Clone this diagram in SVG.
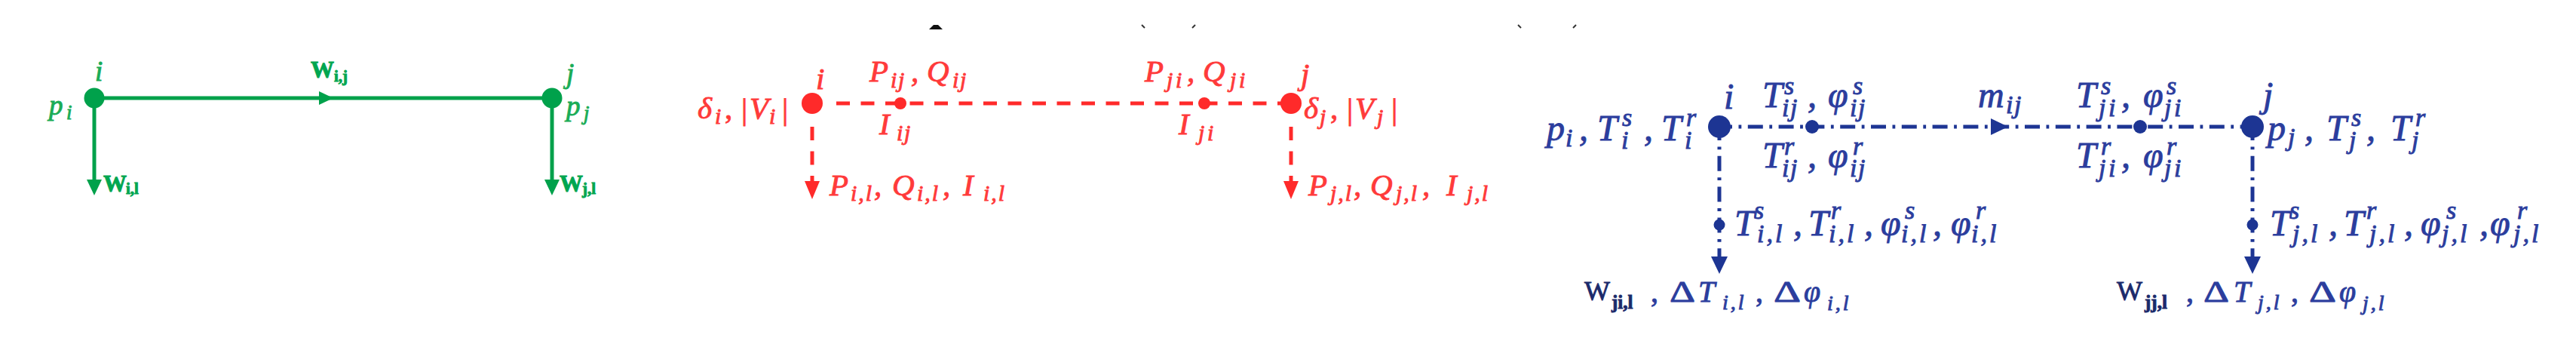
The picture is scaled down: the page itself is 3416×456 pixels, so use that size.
<svg xmlns="http://www.w3.org/2000/svg" width="3416" height="456" viewBox="0 0 3416 456">
<style>
text { font-family: "Liberation Serif", "DejaVu Serif", serif; stroke-width: 0.9px; }
.m { font-style: italic; }
.w { font-weight: bold; }
.gt { fill: #1aac56; stroke: #1aac56; }
.gw { fill: #00a650; stroke: #00a650; }
.rt { fill: #ff3a3a; stroke: #ff3a3a; }
.bt { fill: #2b3d9d; stroke: #2b3d9d; }
.nt { fill: #1b2a6b; stroke: #1b2a6b; }
.gl { stroke: #00a14b; stroke-width: 5; fill: none; }
.rl { stroke: #ff2a2a; stroke-width: 5; fill: none; stroke-dasharray: 18 14.5; }
.bl { stroke: #1d3593; stroke-width: 5; fill: none; stroke-dasharray: 20 8.5 3.8 8.5; }
.gf { fill: #00a14b; }
.rf { fill: #ff2a2a; }
.bf { fill: #1d3593; }
.sub { font-size: 30px; }
.bs { font-size: 34px; }
</style>
<rect width="3416" height="456" fill="#ffffff"/>

<g id="fragments" stroke="#333" stroke-width="2" fill="none">
  <polygon points="1232,39 1250,39 1244,33 1238,33" fill="#111" stroke="none"/>
  <line x1="1514" y1="33" x2="1518" y2="37"/>
  <line x1="1585" y1="33" x2="1581" y2="37"/>
  <line x1="2013" y1="33" x2="2017" y2="37"/>
  <line x1="2090" y1="33" x2="2086" y2="37"/>
</g>

<g id="connectors">
  <line class="gl" x1="125" y1="130" x2="732" y2="130"/>
  <path class="gf" d="M423,121 L442,130 L423,139 Z"/>
  <line class="gl" x1="125" y1="130" x2="125" y2="242"/>
  <path class="gf" d="M115,238 L135,238 L125,259 Z"/>
  <line class="gl" x1="732" y1="130" x2="732" y2="242"/>
  <path class="gf" d="M722,238 L742,238 L732,259 Z"/>
  <line class="rl" x1="1109" y1="137" x2="1712" y2="137"/>
  <line class="rl" x1="1077" y1="168" x2="1077" y2="242"/>
  <path class="rf" d="M1067,240 L1087,240 L1077,264 Z"/>
  <line class="rl" x1="1712" y1="168" x2="1712" y2="242"/>
  <path class="rf" d="M1702,240 L1722,240 L1712,264 Z"/>
  <line class="bl" x1="2277" y1="168" x2="2987" y2="168"/>
  <path class="bf" d="M2640,157 L2663,168 L2640,179 Z"/>
  <line class="bl" x1="2280" y1="166" x2="2280" y2="342"/>
  <path class="bf" d="M2269,340 L2291,340 L2280,363 Z"/>
  <line class="bl" x1="2987" y1="166" x2="2987" y2="342"/>
  <path class="bf" d="M2976,340 L2998,340 L2987,363 Z"/>
</g>

<g id="g-node-i">
  <circle class="gf" cx="125" cy="130" r="13.5"/>
  <text class="m gt" font-size="37" x="126" y="107">i</text>
  <text class="m gt" font-size="37"><tspan x="65" y="152">p</tspan><tspan x="88" y="158" font-size="27">i</tspan></text>
</g>
<g id="g-node-j">
  <circle class="gf" cx="732" cy="130" r="13.5"/>
  <text class="m gt" font-size="37" x="751" y="110">j</text>
  <text class="m gt" font-size="37"><tspan x="751" y="153">p</tspan><tspan x="774" y="159" font-size="27">j</tspan></text>
</g>
<g id="g-flow-ij">
  <text class="w gw"><tspan x="412" y="103" font-size="31">W</tspan><tspan x="443" y="108" font-size="21">i,j</tspan></text>
</g>
<g id="g-load-i">
  <text class="w gw"><tspan x="137" y="254" font-size="31">W</tspan><tspan x="167" y="257" font-size="21">i,l</tspan></text>
</g>
<g id="g-load-j">
  <text class="w gw"><tspan x="742" y="254" font-size="31">W</tspan><tspan x="772" y="257" font-size="21">j,l</tspan></text>
</g>

<g id="r-node-i">
  <circle class="rf" cx="1077" cy="137" r="14"/>
  <text class="m rt" font-size="41" x="1082" y="118">i</text>
  <text class="rt" font-size="41"><tspan class="m" x="925" y="157">δ</tspan><tspan class="m sub" x="948" y="164">i</tspan><tspan x="961" y="157">,</tspan><tspan x="983" y="158">|</tspan><tspan class="m" x="994" y="157">V</tspan><tspan class="m sub" x="1020" y="164">i</tspan><tspan x="1037" y="158">|</tspan></text>
</g>
<g id="r-node-j">
  <circle class="rf" cx="1712" cy="137" r="14"/>
  <text class="m rt" font-size="41" x="1725" y="112">j</text>
  <text class="rt" font-size="41"><tspan class="m" x="1729" y="157">δ</tspan><tspan class="m sub" x="1750" y="165">j</tspan><tspan x="1764" y="157">,</tspan><tspan x="1786" y="158">|</tspan><tspan class="m" x="1797" y="157">V</tspan><tspan class="m sub" x="1826" y="165">j</tspan><tspan x="1845" y="158">|</tspan></text>
</g>
<g id="r-node-Iij">
  <circle class="rf" cx="1194" cy="137" r="8"/>
  <text class="rt m" font-size="41"><tspan x="1153" y="108">P</tspan><tspan class="sub" x="1181" y="116">i</tspan><tspan class="sub" x="1191" y="116">j</tspan><tspan x="1208" y="108">,</tspan><tspan x="1229" y="108">Q</tspan><tspan class="sub" x="1263" y="116">i</tspan><tspan class="sub" x="1273" y="116">j</tspan></text>
  <text class="rt m" font-size="41"><tspan x="1166" y="178">I</tspan><tspan class="sub" x="1189" y="186">i</tspan><tspan class="sub" x="1199" y="186">j</tspan></text>
</g>
<g id="r-node-Iji">
  <circle class="rf" cx="1597" cy="137" r="8"/>
  <text class="rt m" font-size="41"><tspan x="1518" y="108">P</tspan><tspan class="sub" x="1547" y="116">j</tspan><tspan class="sub" x="1559" y="116">i</tspan><tspan x="1574" y="108">,</tspan><tspan x="1595" y="108">Q</tspan><tspan class="sub" x="1631" y="116">j</tspan><tspan class="sub" x="1643" y="116">i</tspan></text>
  <text class="rt m" font-size="41"><tspan x="1563" y="178">I</tspan><tspan class="sub" x="1589" y="186">j</tspan><tspan class="sub" x="1601" y="186">i</tspan></text>
</g>
<g id="r-load-i">
  <text class="rt m" font-size="41"><tspan x="1100" y="259">P</tspan><tspan class="sub" letter-spacing="2" x="1128" y="266">i,l</tspan><tspan x="1159" y="259">,</tspan><tspan x="1183" y="259">Q</tspan><tspan class="sub" letter-spacing="2" x="1216" y="266">i,l</tspan><tspan x="1250" y="259">,</tspan><tspan x="1277" y="259">I</tspan><tspan class="sub" letter-spacing="2" x="1304" y="266">i,l</tspan></text>
</g>
<g id="r-load-j">
  <text class="rt m" font-size="41"><tspan x="1735" y="259">P</tspan><tspan class="sub" letter-spacing="2" x="1764" y="266">j,l</tspan><tspan x="1795" y="259">,</tspan><tspan x="1817" y="259">Q</tspan><tspan class="sub" letter-spacing="2" x="1851" y="266">j,l</tspan><tspan x="1886" y="259">,</tspan><tspan x="1918" y="259">I</tspan><tspan class="sub" letter-spacing="2" x="1945" y="266">j,l</tspan></text>
</g>

<g id="b-node-i">
  <circle class="bf" cx="2280" cy="168" r="15"/>
  <text class="m bt" font-size="48" x="2286" y="144">i</text>
  <text class="m bt" font-size="48"><tspan x="2051" y="186">p</tspan><tspan class="bs" x="2076" y="194">i</tspan><tspan x="2094" y="186">,</tspan><tspan x="2118" y="186">T</tspan><tspan class="bs" x="2151" y="167">s</tspan><tspan class="bs" x="2150" y="197">i</tspan><tspan x="2180" y="186">,</tspan><tspan x="2203" y="186">T</tspan><tspan class="bs" x="2236" y="167">r</tspan><tspan class="bs" x="2234" y="197">i</tspan></text>
</g>
<g id="b-node-j">
  <circle class="bf" cx="2987" cy="168" r="15"/>
  <text class="m bt" font-size="48" x="3001" y="142">j</text>
  <text class="m bt" font-size="48"><tspan x="3007" y="186">p</tspan><tspan class="bs" x="3034" y="193">j</tspan><tspan x="3056" y="186">,</tspan><tspan x="3085" y="186">T</tspan><tspan class="bs" x="3118" y="167">s</tspan><tspan class="bs" x="3115" y="197">j</tspan><tspan x="3138" y="186">,</tspan><tspan x="3170" y="186">T</tspan><tspan class="bs" x="3203" y="167">r</tspan><tspan class="bs" x="3198" y="197">j</tspan></text>
</g>
<g id="b-node-ij">
  <circle class="bf" cx="2403" cy="168" r="9"/>
  <text class="m bt" font-size="48"><tspan x="2337" y="142">T</tspan><tspan class="bs" x="2366" y="125">s</tspan><tspan class="bs" x="2363" y="154">i</tspan><tspan class="bs" x="2374" y="154">j</tspan><tspan x="2397" y="142">,</tspan><tspan x="2424" y="142">φ</tspan><tspan class="bs" x="2457" y="125">s</tspan><tspan class="bs" x="2453" y="154">i</tspan><tspan class="bs" x="2464" y="154">j</tspan></text>
  <text class="m bt" font-size="48"><tspan x="2337" y="222">T</tspan><tspan class="bs" x="2366" y="205">r</tspan><tspan class="bs" x="2363" y="234">i</tspan><tspan class="bs" x="2374" y="234">j</tspan><tspan x="2397" y="222">,</tspan><tspan x="2424" y="222">φ</tspan><tspan class="bs" x="2457" y="205">r</tspan><tspan class="bs" x="2453" y="234">i</tspan><tspan class="bs" x="2464" y="234">j</tspan></text>
</g>
<g id="b-node-ji">
  <circle class="bf" cx="2838" cy="168" r="9"/>
  <text class="m bt" font-size="48"><tspan x="2753" y="142">T</tspan><tspan class="bs" x="2786" y="125">s</tspan><tspan class="bs" x="2783" y="154">j</tspan><tspan class="bs" x="2796" y="154">i</tspan><tspan x="2813" y="142">,</tspan><tspan x="2842" y="142">φ</tspan><tspan class="bs" x="2873" y="125">s</tspan><tspan class="bs" x="2870" y="154">j</tspan><tspan class="bs" x="2883" y="154">i</tspan></text>
  <text class="m bt" font-size="48"><tspan x="2753" y="222">T</tspan><tspan class="bs" x="2786" y="205">r</tspan><tspan class="bs" x="2783" y="234">j</tspan><tspan class="bs" x="2796" y="234">i</tspan><tspan x="2813" y="222">,</tspan><tspan x="2842" y="222">φ</tspan><tspan class="bs" x="2873" y="205">r</tspan><tspan class="bs" x="2870" y="234">j</tspan><tspan class="bs" x="2883" y="234">i</tspan></text>
</g>
<g id="b-flow-ij">
  <text class="m bt" font-size="48"><tspan x="2623" y="142">m</tspan><tspan class="bs" x="2660" y="150">i</tspan><tspan class="bs" x="2671" y="150">j</tspan></text>
</g>
<g id="b-load-node-i">
  <circle class="bf" cx="2280" cy="298" r="7.5"/>
  <text class="m bt" font-size="48"><tspan x="2300" y="312">T</tspan><tspan class="bs" x="2326" y="290">s</tspan><tspan class="bs" letter-spacing="3" x="2330" y="321">i,l</tspan><tspan x="2378" y="312">,</tspan><tspan x="2398" y="312">T</tspan><tspan class="bs" x="2428" y="290">r</tspan><tspan class="bs" letter-spacing="3" x="2425" y="321">i,l</tspan><tspan x="2472" y="312">,</tspan><tspan x="2494" y="312">φ</tspan><tspan class="bs" x="2526" y="290">s</tspan><tspan class="bs" letter-spacing="3" x="2521" y="321">i,l</tspan><tspan x="2563" y="312">,</tspan><tspan x="2587" y="312">φ</tspan><tspan class="bs" x="2620" y="290">r</tspan><tspan class="bs" letter-spacing="3" x="2614" y="321">i,l</tspan></text>
</g>
<g id="b-load-node-j">
  <circle class="bf" cx="2987" cy="298" r="7.5"/>
  <text class="m bt" font-size="48"><tspan x="3010" y="312">T</tspan><tspan class="bs" x="3036" y="290">s</tspan><tspan class="bs" letter-spacing="3" x="3040" y="321">j,l</tspan><tspan x="3088" y="312">,</tspan><tspan x="3108" y="312">T</tspan><tspan class="bs" x="3138" y="290">r</tspan><tspan class="bs" letter-spacing="3" x="3142" y="321">j,l</tspan><tspan x="3188" y="312">,</tspan><tspan x="3210" y="312">φ</tspan><tspan class="bs" x="3244" y="290">s</tspan><tspan class="bs" letter-spacing="3" x="3238" y="321">j,l</tspan><tspan x="3288" y="312">,</tspan><tspan x="3302" y="312">φ</tspan><tspan class="bs" x="3338" y="290">r</tspan><tspan class="bs" letter-spacing="3" x="3333" y="321">j,l</tspan></text>
</g>
<g id="b-load-i">
  <text class="nt"><tspan x="2101" y="398" font-size="36">W</tspan><tspan class="w" x="2137" y="409" font-size="25">ji,l</tspan></text>
  <text class="bt" font-size="40"><tspan x="2189" y="400">,</tspan><tspan class="m" x="2252" y="400">T</tspan><tspan class="m" font-size="28" letter-spacing="3" x="2284" y="410">i,l</tspan><tspan x="2328" y="400">,</tspan><tspan class="m" x="2392" y="400">φ</tspan><tspan class="m" font-size="28" letter-spacing="3" x="2423" y="411">i,l</tspan></text>
  <text class="bt" font-size="40" x="2214" y="400" textLength="34" lengthAdjust="spacingAndGlyphs">Δ</text>
  <text class="bt" font-size="40" x="2352" y="400" textLength="36" lengthAdjust="spacingAndGlyphs">Δ</text>
</g>
<g id="b-load-j">
  <text class="nt"><tspan x="2807" y="398" font-size="36">W</tspan><tspan class="w" x="2844" y="409" font-size="25">jj,l</tspan></text>
  <text class="bt" font-size="40"><tspan x="2899" y="400">,</tspan><tspan class="m" x="2962" y="400">T</tspan><tspan class="m" font-size="28" letter-spacing="3" x="2994" y="410">j,l</tspan><tspan x="3038" y="400">,</tspan><tspan class="m" x="3102" y="400">φ</tspan><tspan class="m" font-size="28" letter-spacing="3" x="3133" y="411">j,l</tspan></text>
  <text class="bt" font-size="40" x="2922" y="400" textLength="34" lengthAdjust="spacingAndGlyphs">Δ</text>
  <text class="bt" font-size="40" x="3062" y="400" textLength="36" lengthAdjust="spacingAndGlyphs">Δ</text>
</g>
</svg>
